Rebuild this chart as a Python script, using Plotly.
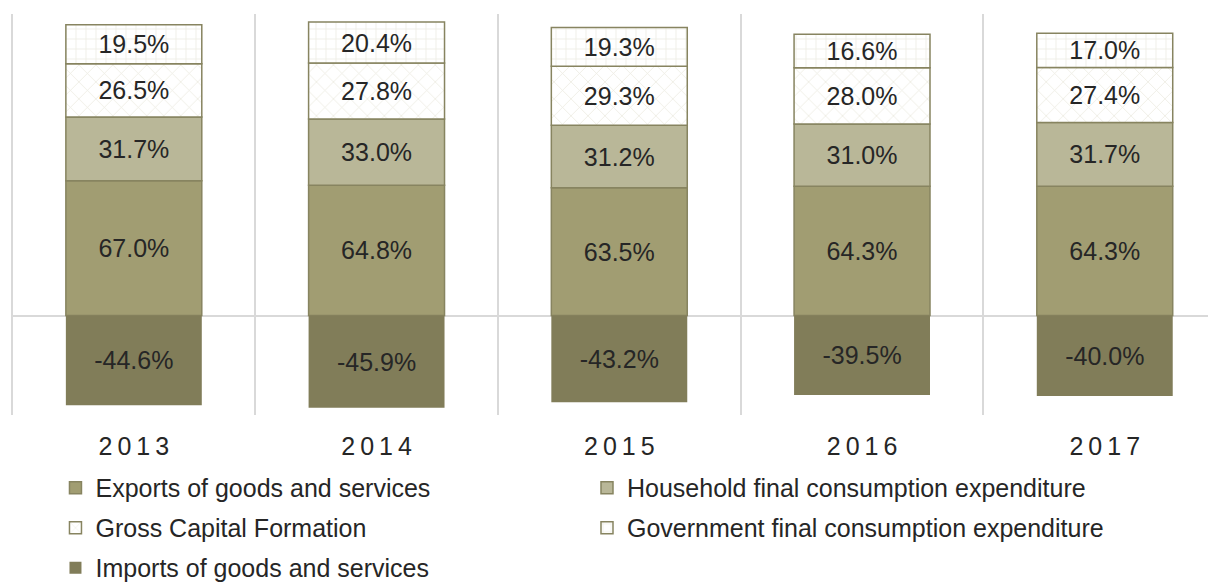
import plotly.graph_objects as go

years = ["2013", "2014", "2015", "2016", "2017"]
exports = [67.0, 64.8, 63.5, 64.3, 64.3]
household = [31.7, 33.0, 31.2, 31.0, 31.7]
gcf = [26.5, 27.8, 29.3, 28.0, 27.4]
government = [19.5, 20.4, 19.3, 16.6, 17.0]
imports = [-44.6, -45.9, -43.2, -39.5, -40.0]

tick_labels = ["\u2009".join(list(y)) for y in years]

FONT = "Liberation Sans, Arial, sans-serif"
TXT = "#262626"
OUTLINE = "#878460"
FS = 25

fig = go.Figure()

def add(name, vals, color, legend, group, line_w=1.5, pattern=None):
    fig.add_trace(go.Bar(
        x=years, y=vals, name=name,
        marker=dict(color=color, line=dict(color=OUTLINE, width=line_w),
                    pattern=pattern if pattern else {}),
        texttemplate="%{y:.1f}%", textposition="inside", insidetextanchor="middle",
        textangle=0, textfont=dict(family=FONT, size=FS, color=TXT),
        width=0.56, legend=legend, legendgroup=group, hoverinfo="skip",
    ))

add("Exports of goods and services", exports, "#A19D72", "legend", "a")
add("Household final consumption expenditure", household, "#B9B798", "legend2", "b")
add("Gross Capital Formation", gcf, "#FFFFFF", "legend", "c",
    pattern=dict(shape="x", fgcolor="#D6D4C0", bgcolor="#FFFFFF", size=12, solidity=0.12))
add("Government final consumption expenditure", government, "#FFFFFF", "legend2", "d",
    pattern=dict(shape="+", fgcolor="#DAD9C6", bgcolor="#FFFFFF", size=10, solidity=0.15))
add("Imports of goods and services", imports, "#817D59", "legend", "e", line_w=0)

legend_common = dict(
    orientation="v", xanchor="left", yanchor="top",
    xref="container", yref="container",
    font=dict(family=FONT, size=FS, color=TXT),
    tracegroupgap=4.5, traceorder="grouped", bgcolor="rgba(0,0,0,0)",
)

fig.update_layout(
    width=1208, height=576,
    margin=dict(l=3, r=2, t=6, b=169, autoexpand=False),
    paper_bgcolor="white", plot_bgcolor="white",
    barmode="relative",
    font=dict(family=FONT, size=FS, color=TXT),
    uniformtext=dict(minsize=FS, mode="show"),
    xaxis=dict(
        type="category", range=[-0.506, 4.45], tickson="boundaries",
        showgrid=True, gridcolor="#D9D9D9", gridwidth=1.5,
        ticks="", showline=False, tickvals=years, ticktext=tick_labels,
        tickfont=dict(family=FONT, size=FS, color=TXT), ticklabelstandoff=14,
    ),
    yaxis=dict(
        range=[-49.5, 150], showgrid=False, showticklabels=False, ticks="",
        zeroline=True, zerolinecolor="#D9D9D9", zerolinewidth=2,
    ),
    legend=dict(x=0.0393, y=0.2066, **legend_common),
    legend2=dict(x=0.4793, y=0.2066, **legend_common),
    showlegend=True,
)

fig.write_html("out.html")
